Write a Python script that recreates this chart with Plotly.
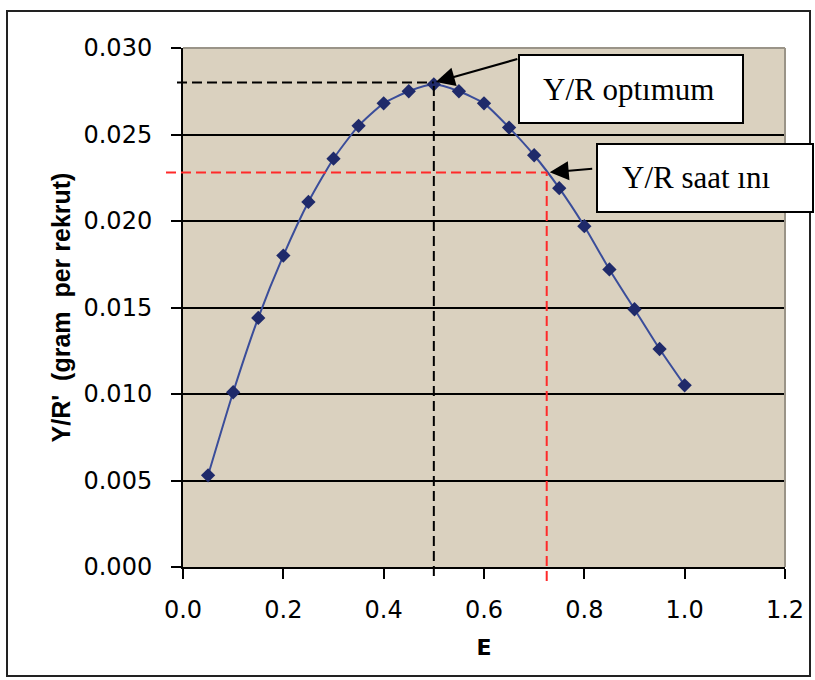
import plotly.graph_objects as go

# ---- data ----
E = [0.05, 0.10, 0.15, 0.20, 0.25, 0.30, 0.35, 0.40, 0.45, 0.50,
     0.55, 0.60, 0.65, 0.70, 0.75, 0.80, 0.85, 0.90, 0.95, 1.00]
YR = [0.0053, 0.0101, 0.0144, 0.0180, 0.0211, 0.0236, 0.0255, 0.0268, 0.0275, 0.0279,
      0.0275, 0.0268, 0.0254, 0.0238, 0.0219, 0.0197, 0.0172, 0.0149, 0.0126, 0.0105]

E_opt, YR_opt = 0.50, 0.0280      # Y/R optimum
E_cur, YR_cur = 0.725, 0.0228     # Y/R current

x_ticks = [0.0, 0.2, 0.4, 0.6, 0.8, 1.0, 1.2]
y_ticks = [0.000, 0.005, 0.010, 0.015, 0.020, 0.025, 0.030]
XMAX, YMAX = 1.2, 0.030

label_opt = "Y/R optımum"
label_cur = "Y/R saat ını"
x_title = "E"
y_title = "Y/R'  (gram  per rekrut)"

# ---- layout geometry (pixels) ----
W, H = 815, 680
L, R, T, B = 183, 30, 48, 113
PW, PH = W - L - R, H - T - B

def px(x):
    return (x - L) / PW

def py(y):
    return (H - B - y) / PH

fig = go.Figure()
fig.add_trace(go.Scatter(
    x=E, y=YR, mode="lines+markers",
    line=dict(color="#3a4d9a", width=2, shape="spline", smoothing=0.6),
    marker=dict(symbol="diamond", size=11, color="#1f2a6a"),
    showlegend=False, cliponaxis=False,
))

shapes = []
dash = "10px,5px"
# black dashed (optimum)
shapes.append(dict(type="line", xref="paper", yref="y", x0=px(177), x1=E_opt / XMAX,
                   y0=YR_opt, y1=YR_opt, line=dict(color="black", width=2, dash=dash), layer="above"))
shapes.append(dict(type="line", xref="x", yref="paper", x0=E_opt, x1=E_opt,
                   y0=py(576), y1=YR_opt / YMAX, line=dict(color="black", width=2, dash=dash), layer="above"))
# red dashed (current)
shapes.append(dict(type="line", xref="paper", yref="y", x0=px(166), x1=E_cur / XMAX,
                   y0=YR_cur, y1=YR_cur, line=dict(color="#ff2a2a", width=2, dash=dash), layer="above"))
shapes.append(dict(type="line", xref="x", yref="paper", x0=E_cur, x1=E_cur,
                   y0=py(581), y1=YR_cur / YMAX, line=dict(color="#ff2a2a", width=2, dash=dash), layer="above"))
# plot top/right edges (gray)
shapes.append(dict(type="line", xref="paper", yref="paper", x0=0, x1=1, y0=1, y1=1,
                   line=dict(color="#9a9488", width=2), layer="above"))
shapes.append(dict(type="line", xref="paper", yref="paper", x0=1, x1=1, y0=0, y1=1,
                   line=dict(color="#9a9488", width=2), layer="above"))
# outer frame
shapes.append(dict(type="rect", xref="paper", yref="paper", x0=px(7), x1=px(810), y0=py(676), y1=py(11),
                   line=dict(color="#222222", width=2), fillcolor="rgba(0,0,0,0)", layer="above"))
# label boxes
shapes.append(dict(type="rect", xref="paper", yref="paper", x0=px(519), x1=px(743), y0=py(123), y1=py(55),
                   line=dict(color="black", width=2), fillcolor="white", layer="above"))
shapes.append(dict(type="rect", xref="paper", yref="paper", x0=px(597), x1=px(813), y0=py(212), y1=py(144),
                   line=dict(color="black", width=2), fillcolor="white", layer="above"))

annotations = [
    dict(x=E_opt, y=YR_opt, xref="x", yref="y", text="", showarrow=True,
         ax=519 - 434, ay=55 - 79, axref="pixel", ayref="pixel",
         arrowhead=2, arrowsize=1.9, arrowwidth=2, arrowcolor="black", standoff=2),
    dict(x=E_cur, y=YR_cur, xref="x", yref="y", text="", showarrow=True,
         ax=597 - 550, ay=-4, axref="pixel", ayref="pixel",
         arrowhead=2, arrowsize=1.9, arrowwidth=2, arrowcolor="black", standoff=3),
    dict(x=px(628), y=py(89), xref="paper", yref="paper", text=label_opt, showarrow=False,
         xanchor="center", yanchor="middle",
         font=dict(family="Liberation Serif", size=31, color="black")),
    dict(x=px(696), y=py(178), xref="paper", yref="paper", text=label_cur, showarrow=False,
         xanchor="center", yanchor="middle",
         font=dict(family="Liberation Serif", size=31, color="black")),
]

fig.update_layout(
    width=W, height=H,
    margin=dict(l=L, r=R, t=T, b=B, pad=0),
    paper_bgcolor="white", plot_bgcolor="#dad1bf",
    shapes=shapes, annotations=annotations,
    xaxis=dict(range=[0, XMAX], tickvals=x_ticks, tickformat=".1f",
               showgrid=False, zeroline=False, showline=True, linecolor="black", linewidth=2,
               ticks="outside", ticklen=10, tickwidth=2, tickcolor="black",
               tickfont=dict(family="DejaVu Sans", size=24, color="black"),
               ticklabelstandoff=10,
               title=dict(text=x_title, font=dict(family="DejaVu Sans", size=22, color="black", weight="bold"),
                          standoff=17)),
    yaxis=dict(range=[0, YMAX], tickvals=y_ticks, tickformat=".3f",
               showgrid=True, gridcolor="black", gridwidth=2, zeroline=False,
               showline=True, linecolor="black", linewidth=2,
               ticks="outside", ticklen=10, tickwidth=2, tickcolor="black",
               tickfont=dict(family="DejaVu Sans", size=24, color="black"),
               ticklabelstandoff=14,
               title=dict(text=y_title, font=dict(family="Liberation Sans", size=25, color="black", weight="bold"),
                          standoff=6)),
)

fig.write_html("out.html", config={"displayModeBar": False},
               post_script="document.body.style.margin='0';")
